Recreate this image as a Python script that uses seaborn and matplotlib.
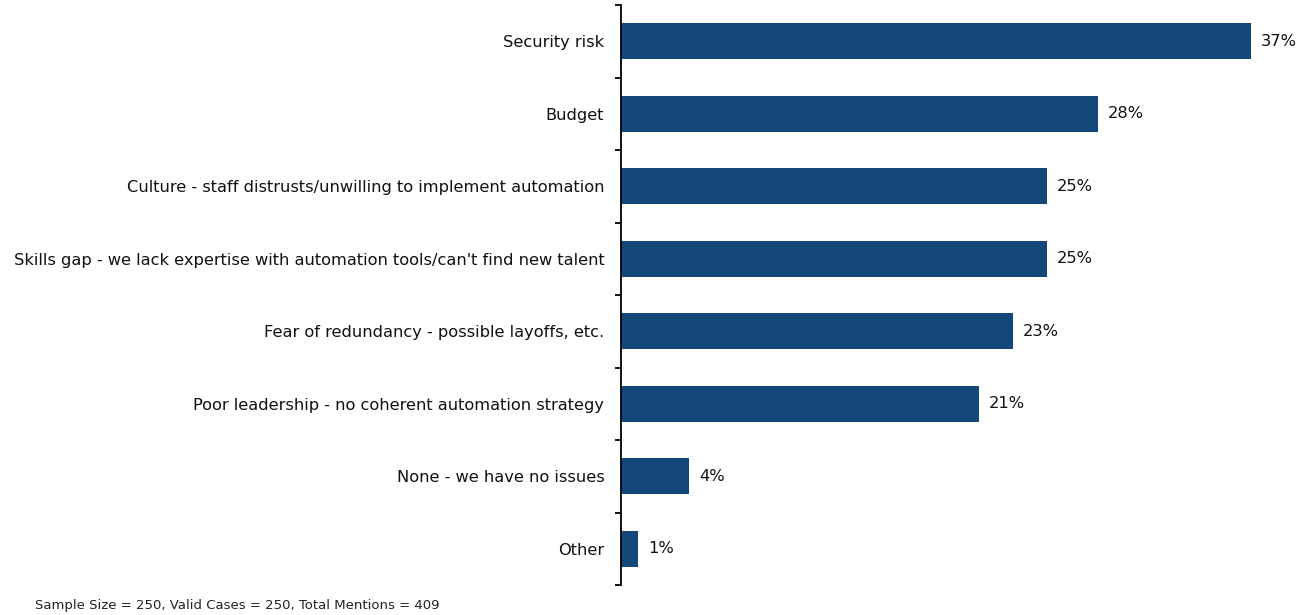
import matplotlib
matplotlib.use("Agg")
import matplotlib.pyplot as plt
import seaborn as sns
import pandas as pd

categories = [
    "Security risk",
    "Budget",
    "Culture - staff distrusts/unwilling to implement automation",
    "Skills gap - we lack expertise with automation tools/can't find new talent",
    "Fear of redundancy - possible layoffs, etc.",
    "Poor leadership - no coherent automation strategy",
    "None - we have no issues",
    "Other",
]
values = [37, 28, 25, 25, 23, 21, 4, 1]
footnote = "Sample Size = 250, Valid Cases = 250, Total Mentions = 409"

sns.set_theme(style="white")
plt.rcParams["font.family"] = ["DejaVu Sans"]

df = pd.DataFrame({"reason": categories, "pct": values})

fig = plt.figure(figsize=(13.1, 6.15), dpi=100)
ax = fig.add_axes([621 / 1310, 30 / 615, 1 - 621 / 1310, 580 / 615])

sns.barplot(data=df, y="reason", x="pct", orient="h", color="#134679",
            saturation=1, width=0.5, linewidth=0, ax=ax)

ax.set_xlim(0, 40.45)
ax.set_ylim(len(categories) - 0.5, -0.5)
ax.set_xlabel("")
ax.set_ylabel("")
ax.set_xticks([])

for s in ["top", "right", "bottom"]:
    ax.spines[s].set_visible(False)
ax.spines["left"].set_color("black")
ax.spines["left"].set_linewidth(1.3)

# labels at bar centres, tick marks at category boundaries
ax.tick_params(axis="y", which="major", length=0, pad=12, labelsize=11.7,
               labelcolor="#111111")
ax.set_yticks([i - 0.5 for i in range(len(categories) + 1)], minor=True)
ax.tick_params(axis="y", which="minor", left=True, length=4.5, width=1.3,
               color="black")

for cont in ax.containers:
    ax.bar_label(cont, labels=[f"{v}%" for v in values], padding=7,
                 fontsize=11.7, color="#111111")

fig.text(35 / 1310, 1 - 606 / 615, footnote, fontsize=9.5, va="center",
         ha="left", color="#222222")

fig.savefig("out.png", dpi=100)
